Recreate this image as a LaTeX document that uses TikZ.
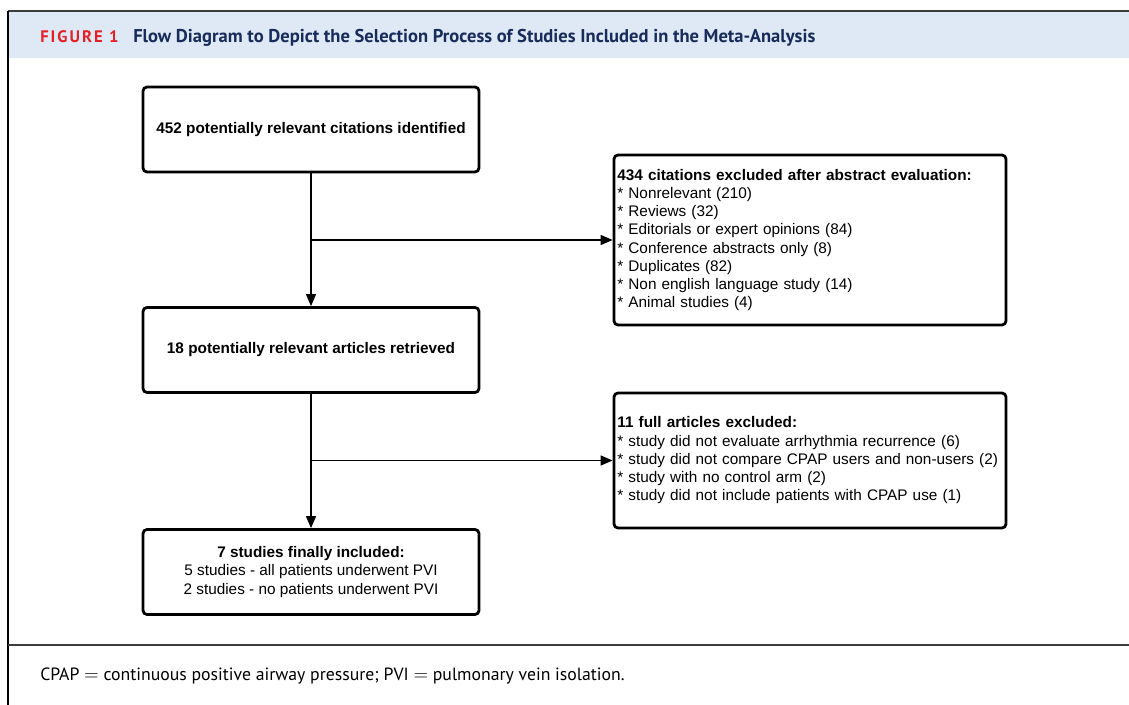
\documentclass[tikz,border=0pt]{standalone}
\usepackage{fontspec}
\setmainfont{Liberation Sans}
\newfontfamily\headfont{PT Sans}
\usetikzlibrary{arrows.meta}
\definecolor{headblue}{RGB}{222,233,245}
\definecolor{headred}{RGB}{227,32,38}
\definecolor{headnavy}{RGB}{24,43,90}
\definecolor{rulegray}{RGB}{60,60,60}
\tikzset{
  flowbox/.style={draw=black, line width=2.1pt, rounded corners=3pt, inner xsep=2.5pt,
    font=\fontsize{11.5}{13.7}\selectfont},
  leftbox/.style={flowbox, align=center, minimum width=252pt, minimum height=63.75pt},
  rightbox/.style={flowbox, align=left, text width=289pt, minimum width=294pt},
  flowarrow/.style={line width=1.1pt, -{Triangle[length=9pt,width=7.5pt]}}
}
\begin{document}
\begin{tikzpicture}[x=0.75pt,y=-0.75pt]
\useasboundingbox (0,0) rectangle (1129,705);
% frame and caption band
\fill[headblue] (8,11) rectangle (1129,58);
\draw[rulegray, line width=2pt] (8,11) -- (1129,11);
\draw[black, line width=1.1pt] (8,11) -- (8,705);
\draw[rulegray, line width=1.8pt] (8,645) -- (1129,645);
\node[anchor=base west, inner sep=0pt, text=headred, font=\headfont\bfseries\fontsize{12.5}{14}\selectfont\addfontfeatures{LetterSpace=12}] (figno) at (40,43) {FIGURE 1};
\node[anchor=base west, inner sep=0pt, text=headnavy, font=\headfont\bfseries\fontsize{13.9}{15}\selectfont] (figtitle) at (133,43) {Flow Diagram to Depict the Selection Process of Studies Included in the Meta-Analysis};
% flow boxes
\node[leftbox] (cit) at (311,129.5) {\textbf{452 potentially relevant citations identified}};
\node[leftbox] (ret) at (311,350) {\textbf{18 potentially relevant articles retrieved}};
\node[leftbox] (incl) at (311,572) {\textbf{7 studies finally included:}\\5 studies - all patients underwent PVI\\2 studies - no patients underwent PVI};
\node[rightbox, minimum height=127.5pt] (exc1) at (810,240) {\textbf{434 citations excluded after abstract evaluation:}\\
{*} Nonrelevant (210)\\
{*} Reviews (32)\\
{*} Editorials or expert opinions (84)\\
{*} Conference abstracts only (8)\\
{*} Duplicates (82)\\
{*} Non english language study (14)\\
{*} Animal studies (4)};
\node[rightbox, minimum height=101.25pt] (exc2) at (810,460.5) {\textbf{11 full articles excluded:}\\
{*} study did not evaluate arrhythmia recurrence (6)\\
{*} study did not compare CPAP users and non-users (2)\\
{*} study with no control arm (2)\\
{*} study did not include patients with CPAP use (1)};
% connectors
\draw[flowarrow] (cit.south) -- (ret.north);
\draw[flowarrow] (cit.south |- exc1.west) -- (exc1.west);
\draw[flowarrow] (ret.south) -- (incl.north);
\draw[flowarrow] (ret.south |- exc2.west) -- (exc2.west);
% abbreviations
\node[anchor=base west, inner sep=0pt, font=\headfont\fontsize{13.3}{15}\selectfont] (notes) at (40,681) {CPAP $=$ continuous positive airway pressure; PVI $=$ pulmonary vein isolation.};
\end{tikzpicture}
\end{document}
